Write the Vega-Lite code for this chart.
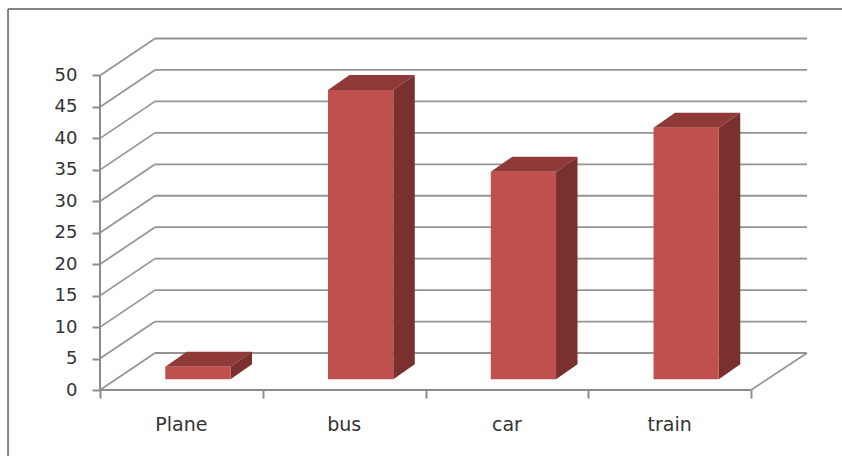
{
  "$schema": "https://vega.github.io/schema/vega-lite/v6.json",
  "width": 707,
  "height": 352,
  "autosize": {"type": "none"},
  "padding": {"left": 100, "top": 38, "right": 35, "bottom": 66},
  "background": "white",
  "view": {"stroke": null},
  "config": {"axis": {"title": null, "grid": false, "domain": false}},
  "datasets": {
    "modes": [
      {"mode": "Plane", "value": 2},
      {"mode": "bus", "value": 46},
      {"mode": "car", "value": 33},
      {"mode": "train", "value": 40}
    ],
    "ticks": [
      {"v": 0}, {"v": 5}, {"v": 10}, {"v": 15}, {"v": 20}, {"v": 25},
      {"v": 30}, {"v": 35}, {"v": 40}, {"v": 45}, {"v": 50}
    ],
    "one": [{}]
  },
  "layer": [
    {
      "description": "Chart frame, top edge",
      "data": {"name": "one"},
      "mark": {"type": "rule", "stroke": "#858585", "strokeWidth": 2, "clip": false},
      "encoding": {
        "x": {"datum": -0.565, "type": "quantitative", "scale": {"domain": [0, 4.344], "nice": false, "zero": false}, "axis": {"values": [0, 1, 2, 3, 4], "labels": false, "tickSize": 8, "tickColor": "#8c8c8c", "tickWidth": 2, "orient": "bottom"}},
        "x2": {"datum": 4.57},
        "y": {"datum": 60.57, "type": "quantitative", "scale": {"domain": [0, 55.96], "nice": false, "zero": false}, "axis": {"values": [0, 5, 10, 15, 20, 25, 30, 35, 40, 45, 50], "tickSize": 8, "tickColor": "#8c8c8c", "tickWidth": 2, "labelFont": "DejaVu Sans", "labelFontSize": 18, "labelColor": "#333333", "labelPadding": 15, "labelOverlap": false, "labelFlush": false}}
      }
    },
    {
      "description": "Chart frame, left edge",
      "data": {"name": "one"},
      "mark": {"type": "rule", "stroke": "#858585", "strokeWidth": 2},
      "encoding": {
        "x": {"datum": -0.565, "type": "quantitative", "scale": {"domain": [0, 4.344], "nice": false, "zero": false}, "axis": {"values": [0, 1, 2, 3, 4], "labels": false, "tickSize": 8, "tickColor": "#8c8c8c", "tickWidth": 2, "orient": "bottom"}},
        "y": {"datum": 60.57, "type": "quantitative", "scale": {"domain": [0, 55.96], "nice": false, "zero": false}, "axis": {"values": [0, 5, 10, 15, 20, 25, 30, 35, 40, 45, 50], "tickSize": 8, "tickColor": "#8c8c8c", "tickWidth": 2, "labelFont": "DejaVu Sans", "labelFontSize": 18, "labelColor": "#333333", "labelPadding": 15, "labelOverlap": false, "labelFlush": false}},
        "y2": {"datum": -10.6}
      }
    },
    {
      "description": "Side wall gridlines running back from the value axis",
      "data": {"name": "ticks"},
      "transform": [{"calculate": "datum.v + 5.88", "as": "back"}],
      "mark": {"type": "rule", "stroke": "#949494", "strokeWidth": 1.7},
      "encoding": {
        "x": {"datum": 0, "type": "quantitative", "scale": {"domain": [0, 4.344], "nice": false, "zero": false}, "axis": {"values": [0, 1, 2, 3, 4], "labels": false, "tickSize": 8, "tickColor": "#8c8c8c", "tickWidth": 2, "orient": "bottom"}},
        "x2": {"datum": 0.338},
        "y": {"field": "v", "type": "quantitative", "scale": {"domain": [0, 55.96], "nice": false, "zero": false}, "axis": {"values": [0, 5, 10, 15, 20, 25, 30, 35, 40, 45, 50], "tickSize": 8, "tickColor": "#8c8c8c", "tickWidth": 2, "labelFont": "DejaVu Sans", "labelFontSize": 18, "labelColor": "#333333", "labelPadding": 15, "labelOverlap": false, "labelFlush": false}},
        "y2": {"field": "back"}
      }
    },
    {
      "description": "Back wall gridlines",
      "data": {"name": "ticks"},
      "transform": [{"calculate": "datum.v + 5.88", "as": "back"}],
      "mark": {"type": "rule", "stroke": "#949494", "strokeWidth": 1.8},
      "encoding": {
        "x": {"datum": 0.338, "type": "quantitative", "scale": {"domain": [0, 4.344], "nice": false, "zero": false}, "axis": {"values": [0, 1, 2, 3, 4], "labels": false, "tickSize": 8, "tickColor": "#8c8c8c", "tickWidth": 2, "orient": "bottom"}},
        "x2": {"datum": 4.344},
        "y": {"field": "back", "type": "quantitative", "scale": {"domain": [0, 55.96], "nice": false, "zero": false}, "axis": {"values": [0, 5, 10, 15, 20, 25, 30, 35, 40, 45, 50], "tickSize": 8, "tickColor": "#8c8c8c", "tickWidth": 2, "labelFont": "DejaVu Sans", "labelFontSize": 18, "labelColor": "#333333", "labelPadding": 15, "labelOverlap": false, "labelFlush": false}}
      }
    },
    {
      "description": "Floor edge on the right",
      "data": {"name": "one"},
      "mark": {"type": "rule", "stroke": "#949494", "strokeWidth": 1.7},
      "encoding": {
        "x": {"datum": 4, "type": "quantitative", "scale": {"domain": [0, 4.344], "nice": false, "zero": false}, "axis": {"values": [0, 1, 2, 3, 4], "labels": false, "tickSize": 8, "tickColor": "#8c8c8c", "tickWidth": 2, "orient": "bottom"}},
        "x2": {"datum": 4.344},
        "y": {"datum": 0, "type": "quantitative", "scale": {"domain": [0, 55.96], "nice": false, "zero": false}, "axis": {"values": [0, 5, 10, 15, 20, 25, 30, 35, 40, 45, 50], "tickSize": 8, "tickColor": "#8c8c8c", "tickWidth": 2, "labelFont": "DejaVu Sans", "labelFontSize": 18, "labelColor": "#333333", "labelPadding": 15, "labelOverlap": false, "labelFlush": false}},
        "y2": {"datum": 5.88}
      }
    },
    {
      "description": "Value axis line",
      "data": {"name": "one"},
      "mark": {"type": "rule", "stroke": "#8c8c8c", "strokeWidth": 2},
      "encoding": {
        "x": {"datum": 0, "type": "quantitative", "scale": {"domain": [0, 4.344], "nice": false, "zero": false}, "axis": {"values": [0, 1, 2, 3, 4], "labels": false, "tickSize": 8, "tickColor": "#8c8c8c", "tickWidth": 2, "orient": "bottom"}},
        "y": {"datum": 0, "type": "quantitative", "scale": {"domain": [0, 55.96], "nice": false, "zero": false}, "axis": {"values": [0, 5, 10, 15, 20, 25, 30, 35, 40, 45, 50], "tickSize": 8, "tickColor": "#8c8c8c", "tickWidth": 2, "labelFont": "DejaVu Sans", "labelFontSize": 18, "labelColor": "#333333", "labelPadding": 15, "labelOverlap": false, "labelFlush": false}},
        "y2": {"datum": 50}
      }
    },
    {
      "description": "Category axis line",
      "data": {"name": "one"},
      "mark": {"type": "rule", "stroke": "#8c8c8c", "strokeWidth": 2},
      "encoding": {
        "x": {"datum": 0, "type": "quantitative", "scale": {"domain": [0, 4.344], "nice": false, "zero": false}, "axis": {"values": [0, 1, 2, 3, 4], "labels": false, "tickSize": 8, "tickColor": "#8c8c8c", "tickWidth": 2, "orient": "bottom"}},
        "x2": {"datum": 4},
        "y": {"datum": 0, "type": "quantitative", "scale": {"domain": [0, 55.96], "nice": false, "zero": false}, "axis": {"values": [0, 5, 10, 15, 20, 25, 30, 35, 40, 45, 50], "tickSize": 8, "tickColor": "#8c8c8c", "tickWidth": 2, "labelFont": "DejaVu Sans", "labelFontSize": 18, "labelColor": "#333333", "labelPadding": 15, "labelOverlap": false, "labelFlush": false}}
      }
    },
    {
      "description": "Top face of each column",
      "data": {"name": "modes"},
      "transform": [
        {"calculate": "indexof(['Plane','bus','car','train'], datum.mode)", "as": "slot"},
        {"calculate": "[0,1,2,3]", "as": "corner"},
        {"flatten": ["corner"]},
        {"calculate": "datum.slot + 0.401 + (datum.corner == 1 || datum.corner == 2 ? 0.401 : 0) + (datum.corner >= 2 ? 0.132 : 0)", "as": "px"},
        {"calculate": "datum.value + 1.7 + (datum.corner >= 2 ? 2.38 : 0)", "as": "py"}
      ],
      "mark": {"type": "line", "fill": "#8f3a38", "stroke": null, "strokeWidth": 0},
      "encoding": {
        "x": {"field": "px", "type": "quantitative", "scale": {"domain": [0, 4.344], "nice": false, "zero": false}, "axis": {"values": [0, 1, 2, 3, 4], "labels": false, "tickSize": 8, "tickColor": "#8c8c8c", "tickWidth": 2, "orient": "bottom"}},
        "y": {"field": "py", "type": "quantitative", "scale": {"domain": [0, 55.96], "nice": false, "zero": false}, "axis": {"values": [0, 5, 10, 15, 20, 25, 30, 35, 40, 45, 50], "tickSize": 8, "tickColor": "#8c8c8c", "tickWidth": 2, "labelFont": "DejaVu Sans", "labelFontSize": 18, "labelColor": "#333333", "labelPadding": 15, "labelOverlap": false, "labelFlush": false}},
        "order": {"field": "corner"},
        "detail": {"field": "mode"}
      }
    },
    {
      "description": "Side face of each column",
      "data": {"name": "modes"},
      "transform": [
        {"calculate": "indexof(['Plane','bus','car','train'], datum.mode)", "as": "slot"},
        {"calculate": "[0,1,2,3]", "as": "corner"},
        {"flatten": ["corner"]},
        {"calculate": "datum.slot + 0.802 + (datum.corner == 1 || datum.corner == 2 ? 0.132 : 0)", "as": "px"},
        {"calculate": "1.7 + (datum.corner >= 2 ? datum.value : 0) + (datum.corner == 1 || datum.corner == 2 ? 2.38 : 0)", "as": "py"}
      ],
      "mark": {"type": "line", "fill": "#7a302e", "stroke": null, "strokeWidth": 0},
      "encoding": {
        "x": {"field": "px", "type": "quantitative", "scale": {"domain": [0, 4.344], "nice": false, "zero": false}, "axis": {"values": [0, 1, 2, 3, 4], "labels": false, "tickSize": 8, "tickColor": "#8c8c8c", "tickWidth": 2, "orient": "bottom"}},
        "y": {"field": "py", "type": "quantitative", "scale": {"domain": [0, 55.96], "nice": false, "zero": false}, "axis": {"values": [0, 5, 10, 15, 20, 25, 30, 35, 40, 45, 50], "tickSize": 8, "tickColor": "#8c8c8c", "tickWidth": 2, "labelFont": "DejaVu Sans", "labelFontSize": 18, "labelColor": "#333333", "labelPadding": 15, "labelOverlap": false, "labelFlush": false}},
        "order": {"field": "corner"},
        "detail": {"field": "mode"}
      }
    },
    {
      "description": "Front face of each column",
      "data": {"name": "modes"},
      "transform": [
        {"calculate": "indexof(['Plane','bus','car','train'], datum.mode)", "as": "slot"},
        {"calculate": "datum.slot + 0.401", "as": "left"},
        {"calculate": "datum.slot + 0.802", "as": "right"},
        {"calculate": "datum.value + 1.7", "as": "top"}
      ],
      "mark": {"type": "rect", "fill": "#c0504d"},
      "encoding": {
        "x": {"field": "left", "type": "quantitative", "scale": {"domain": [0, 4.344], "nice": false, "zero": false}, "axis": {"values": [0, 1, 2, 3, 4], "labels": false, "tickSize": 8, "tickColor": "#8c8c8c", "tickWidth": 2, "orient": "bottom"}},
        "x2": {"field": "right"},
        "y": {"field": "top", "type": "quantitative", "scale": {"domain": [0, 55.96], "nice": false, "zero": false}, "axis": {"values": [0, 5, 10, 15, 20, 25, 30, 35, 40, 45, 50], "tickSize": 8, "tickColor": "#8c8c8c", "tickWidth": 2, "labelFont": "DejaVu Sans", "labelFontSize": 18, "labelColor": "#333333", "labelPadding": 15, "labelOverlap": false, "labelFlush": false}},
        "y2": {"datum": 1.7}
      }
    },
    {
      "description": "Category names under the axis",
      "data": {"name": "modes"},
      "transform": [
        {"calculate": "indexof(['Plane','bus','car','train'], datum.mode) + 0.5", "as": "center"}
      ],
      "mark": {"type": "text", "font": "DejaVu Sans", "fontSize": 19, "fill": "#333333", "dy": 35, "baseline": "middle", "align": "center"},
      "encoding": {
        "x": {"field": "center", "type": "quantitative", "scale": {"domain": [0, 4.344], "nice": false, "zero": false}, "axis": {"values": [0, 1, 2, 3, 4], "labels": false, "tickSize": 8, "tickColor": "#8c8c8c", "tickWidth": 2, "orient": "bottom"}},
        "y": {"datum": 0, "type": "quantitative", "scale": {"domain": [0, 55.96], "nice": false, "zero": false}, "axis": {"values": [0, 5, 10, 15, 20, 25, 30, 35, 40, 45, 50], "tickSize": 8, "tickColor": "#8c8c8c", "tickWidth": 2, "labelFont": "DejaVu Sans", "labelFontSize": 18, "labelColor": "#333333", "labelPadding": 15, "labelOverlap": false, "labelFlush": false}},
        "text": {"field": "mode"}
      }
    }
  ]
}
